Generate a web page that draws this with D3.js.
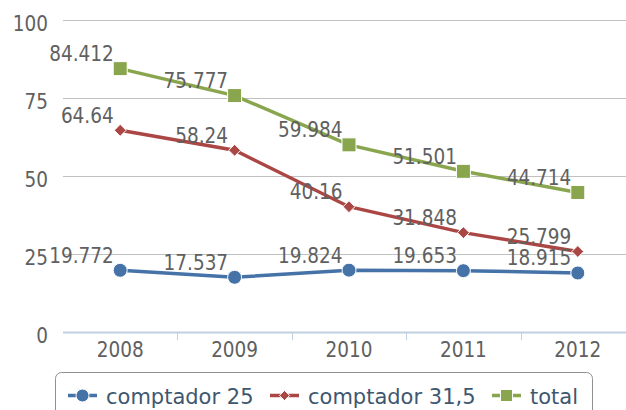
<!DOCTYPE html>
<html>
<head>
<meta charset="utf-8">
<script src="https://cdn.jsdelivr.net/npm/d3@7"></script>
<style>
  body { margin: 0; background: #fff; }
  svg { display: block; font-family: "DejaVu Sans", sans-serif; }
  .lbl { font-family: "DejaVu Sans Condensed", "DejaVu Sans", sans-serif; font-stretch: condensed; }
</style>
</head>
<body>
<div id="chart"></div>
<script>
/* DATA */
const years = ["2008", "2009", "2010", "2011", "2012"];
const comptador25 = [19.772, 17.537, 19.824, 19.653, 18.915];
const comptador315 = [64.64, 58.24, 40.16, 31.848, 25.799];
const total = [84.412, 75.777, 59.984, 51.501, 44.714];
const yTicks = [0, 25, 50, 75, 100];

const series = [
  { name: "comptador 25", values: comptador25, color: "#4572A7", marker: "circle" },
  { name: "comptador 31,5", values: comptador315, color: "#AA4643", marker: "diamond" },
  { name: "total", values: total, color: "#89A54E", marker: "square" }
];

/* SIZES */
const width = 626, height = 410;
const plot = { left: 63, right: 635, top: 20, bottom: 332 };
const labelSize = 20.5;

const svg = d3.select("#chart").append("svg")
  .attr("width", width)
  .attr("height", height);

const xScale = d3.scalePoint()
  .domain(years)
  .range([plot.left, plot.right])
  .padding(0.5);

const band = xScale.step();

const yScale = d3.scaleLinear()
  .domain([0, 100])
  .range([plot.bottom, plot.top]);

// grid lines
svg.append("g")
  .selectAll("line")
  .data(yTicks.filter(d => d > 0))
  .join("line")
  .attr("x1", plot.left)
  .attr("x2", width)
  .attr("y1", d => Math.round(yScale(d)) + 0.5)
  .attr("y2", d => Math.round(yScale(d)) + 0.5)
  .attr("stroke", "#C0C0C0")
  .attr("stroke-width", 1);

// y labels
svg.append("g")
  .selectAll("text")
  .data(yTicks)
  .join("text")
  .attr("class", "lbl")
  .attr("x", 48)
  .attr("y", d => yScale(d) + 10.5)
  .attr("text-anchor", "end")
  .attr("font-size", labelSize)
  .attr("fill", "#606060")
  .text(d => d);

// x axis line + ticks
svg.append("line")
  .attr("x1", plot.left).attr("x2", width)
  .attr("y1", plot.bottom + 0.5).attr("y2", plot.bottom + 0.5)
  .attr("stroke", "#C0D0E0").attr("stroke-width", 2);

svg.append("g")
  .selectAll("line")
  .data(years.slice(1))
  .join("line")
  .attr("x1", d => Math.round(xScale(d) - band / 2) + 0.5)
  .attr("x2", d => Math.round(xScale(d) - band / 2) + 0.5)
  .attr("y1", plot.bottom)
  .attr("y2", plot.bottom + 8)
  .attr("stroke", "#C0D0E0").attr("stroke-width", 1);

svg.append("g")
  .selectAll("text")
  .data(years)
  .join("text")
  .attr("class", "lbl")
  .attr("x", d => xScale(d))
  .attr("y", 357)
  .attr("text-anchor", "middle")
  .attr("font-size", labelSize)
  .attr("fill", "#606060")
  .text(d => d);

// markers
function drawMarker(g, type, x, y, color, size) {
  if (type === "circle") {
    g.append("circle").attr("cx", x).attr("cy", y).attr("r", size)
      .attr("fill", color).attr("stroke", "#fff").attr("stroke-width", 1);
  } else if (type === "diamond") {
    const s = size * 0.85;
    g.append("path")
      .attr("d", `M${x},${y - s}L${x + s},${y}L${x},${y + s}L${x - s},${y}Z`)
      .attr("fill", color).attr("stroke", "#fff").attr("stroke-width", 1);
  } else {
    g.append("rect").attr("x", x - size).attr("y", y - size)
      .attr("width", size * 2).attr("height", size * 2)
      .attr("fill", color).attr("stroke", "#fff").attr("stroke-width", 1);
  }
}

const line = d3.line()
  .x((d, i) => xScale(years[i]))
  .y(d => yScale(d));

series.forEach(s => {
  const g = svg.append("g");
  g.append("path")
    .attr("d", line(s.values))
    .attr("fill", "none")
    .attr("stroke", s.color)
    .attr("stroke-width", 3.5);
  s.values.forEach((v, i) => {
    drawMarker(g, s.marker, xScale(years[i]), yScale(v), s.color, 7);
  });
});

// data labels
series.forEach(s => {
  svg.append("g")
    .selectAll("text")
    .data(s.values)
    .join("text")
    .attr("class", "lbl")
    .attr("x", (d, i) => xScale(years[i]) - 6.5)
    .attr("y", d => yScale(d) - 7.5)
    .attr("text-anchor", "end")
    .attr("font-size", labelSize)
    .attr("fill", "#606060")
    .text(d => d);
});

// legend
const legend = svg.append("g");
legend.append("rect")
  .attr("x", 55.5).attr("y", 372.5)
  .attr("width", 537).attr("height", 60)
  .attr("rx", 6)
  .attr("fill", "#fff")
  .attr("stroke", "#909090")
  .attr("stroke-width", 1);

let cursor = 68;
series.forEach(s => {
  const g = legend.append("g");
  g.append("line")
    .attr("x1", cursor).attr("x2", cursor + 29)
    .attr("y1", 395.5).attr("y2", 395.5)
    .attr("stroke", s.color).attr("stroke-width", 3.5);
  drawMarker(g, s.marker, cursor + 14.5, 395.5, s.color, s.marker === "circle" ? 6.5 : 6);
  const t = g.append("text")
    .attr("x", cursor + 38)
    .attr("y", 403.5)
    .attr("font-size", 21)
    .attr("fill", "#3E576F")
    .text(s.name);
  cursor = cursor + 38 + t.node().getComputedTextLength() + 16.5;
});
</script>
</body>
</html>
